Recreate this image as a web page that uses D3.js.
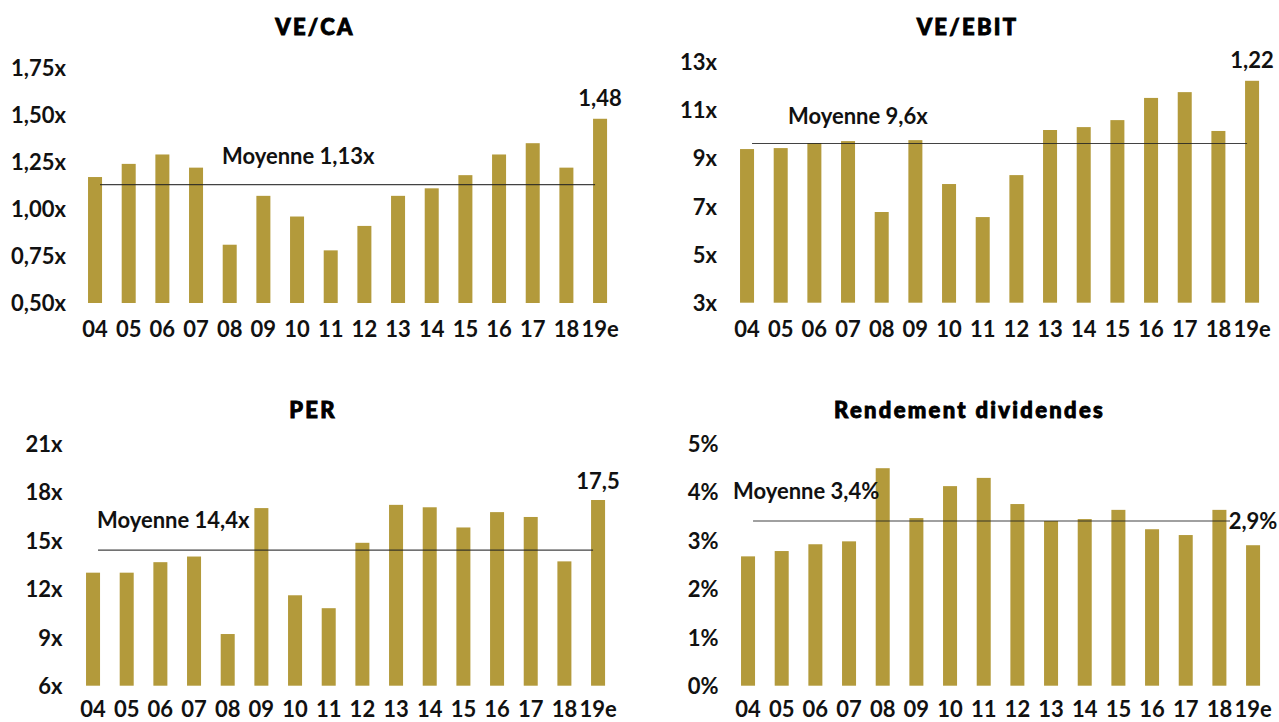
<!DOCTYPE html>
<html>
<head>
<meta charset="utf-8">
<script src="https://cdn.jsdelivr.net/npm/d3@7"></script>
<style>
  html, body { margin: 0; padding: 0; background: #ffffff; }
  svg { display: block; }
  .tick text, .lbl { font-family: Lato, "Open Sans", sans-serif; font-weight: 700; fill: #111; }
  .title { font-family: Lato, sans-serif; font-weight: 900; fill: #000; stroke: #000; stroke-width: 0.9px; letter-spacing: 2.3px; }
</style>
</head>
<body>
<svg id="chart" width="1279" height="722"></svg>
<script>
// Years shown under every panel
const years = ["04", "05", "06", "07", "08", "09", "10", "11", "12", "13", "14", "15", "16", "17", "18", "19e"];

// Valuation multiples per year
const veCa      = [1.17, 1.24, 1.29, 1.22, 0.81, 1.07, 0.96, 0.78, 0.91, 1.07, 1.11, 1.18, 1.29, 1.35, 1.22, 1.48];
const veEbit    = [9.37, 9.41, 9.62, 9.70, 6.76, 9.74, 7.92, 6.55, 8.29, 10.16, 10.28, 10.57, 11.49, 11.73, 10.12, 12.2];
const per       = [13.0, 13.0, 13.65, 14.0, 9.2, 17.0, 11.6, 10.8, 14.85, 17.2, 17.05, 15.8, 16.75, 16.45, 13.7, 17.5];
const rendement = [2.67, 2.78, 2.92, 2.98, 4.49, 3.46, 4.12, 4.29, 3.75, 3.40, 3.44, 3.63, 3.23, 3.11, 3.63, 2.9];

// Period averages
const moyennes = [1.13, 9.6, 14.4, 3.4];
const moyenneLabels = ["Moyenne 1,13x", "Moyenne 9,6x", "Moyenne 14,4x", "Moyenne 3,4%"];

// Labels printed above the last bar
const lastLabels = ["1,48", "1,22", "17,5", "2,9%"];

// Panel titles
const titles = ["VE/CA", "VE/EBIT", "PER", "Rendement dividendes"];

// Y-axis ticks
const ticksVeCa = [0.5, 0.75, 1.0, 1.25, 1.5, 1.75];
const ticksVeEbit = [3, 5, 7, 9, 11, 13];
const ticksPer = [6, 9, 12, 15, 18, 21];
const ticksRendement = [0, 1, 2, 3, 4, 5];

const BAR = "#b39a3b";
const fmtComma = (d, n) => d.toFixed(n).replace(".", ",");

// Layout of the four panels
const panels = [
  { values: veCa, ticks: ticksVeCa, fmt: d => fmtComma(d, 2) + "x",
    x: [78.2, 616.9], y: [303, 68], axisX: 66, axisLabelY: 337,
    title: [315, 35], avgLbl: [222, 164], lastOff: 13, lineEnd: null },
  { values: veEbit, ticks: ticksVeEbit, fmt: d => d + "x",
    x: [730.2, 1268.9], y: [302.7, 61.5], axisX: 717, axisLabelY: 337,
    title: [967.5, 35], avgLbl: [788, 124], lastOff: 13, lineEnd: null },
  { values: per, ticks: ticksPer, fmt: d => d + "x",
    x: [76.2, 614.9], y: [685.7, 443.5], axisX: 62.5, axisLabelY: 717,
    title: [313, 418], avgLbl: [97, 528], lastOff: 11, lineEnd: null },
  { values: rendement, ticks: ticksRendement, fmt: d => d + "%",
    x: [731.2, 1269.9], y: [685.7, 443.5], axisX: 718.5, axisLabelY: 717,
    title: [969.6, 418], avgLbl: [733, 499], lastOff: 16, lineEnd: 1230 }
];

const svg = d3.select("#chart");
const FS = 22;

panels.forEach((p, i) => {
  const g = svg.append("g");
  const x = d3.scaleBand().domain(years).range(p.x).paddingInner(0.584).paddingOuter(0.292);
  const dom = [p.ticks[0], p.ticks[p.ticks.length - 1]];
  const y = d3.scaleLinear().domain(dom).range(p.y);
  const base = y(dom[0]);

  // bars
  g.selectAll("rect.bar").data(p.values).join("rect")
    .attr("class", "bar")
    .attr("x", (d, j) => x(years[j]))
    .attr("width", x.bandwidth())
    .attr("y", d => y(d))
    .attr("height", d => base - y(d))
    .attr("fill", BAR);

  // y axis
  const ya = g.append("g").attr("transform", `translate(${p.axisX},0)`)
    .call(d3.axisLeft(y).tickValues(p.ticks).tickFormat(p.fmt).tickSize(0).tickPadding(0));
  ya.select(".domain").remove();
  ya.selectAll("text").style("font-size", FS + "px").attr("dy", "0.36em");

  // x axis
  const xa = g.append("g").attr("transform", `translate(0,${base})`)
    .call(d3.axisBottom(x).tickSize(0));
  xa.select(".domain").remove();
  xa.selectAll("text").style("font-size", FS + "px")
    .attr("dy", null).attr("y", p.axisLabelY - base);

  // average line
  const first = x(years[0]) + x.bandwidth() / 2;
  const last = x(years[years.length - 1]) + x.bandwidth() / 2;
  g.append("line")
    .attr("x1", first + 5)
    .attr("x2", p.lineEnd !== null ? p.lineEnd : last - 5)
    .attr("y1", y(moyennes[i])).attr("y2", y(moyennes[i]))
    .attr("stroke", "#222").attr("stroke-opacity", 0.85).attr("stroke-width", 1.2);

  g.append("text").attr("class", "lbl")
    .attr("x", p.avgLbl[0]).attr("y", p.avgLbl[1])
    .style("font-size", FS + "px")
    .text(moyenneLabels[i]);

  // label above the last bar
  const lv = p.values[p.values.length - 1];
  g.append("text").attr("class", "lbl")
    .attr("x", last).attr("y", y(lv) - p.lastOff)
    .attr("text-anchor", "middle")
    .style("font-size", FS + "px")
    .text(lastLabels[i]);

  // title
  g.append("text").attr("class", "title")
    .attr("x", p.title[0]).attr("y", p.title[1])
    .attr("text-anchor", "middle")
    .style("font-size", "22px")
    .text(titles[i]);
});
</script>
</body>
</html>
